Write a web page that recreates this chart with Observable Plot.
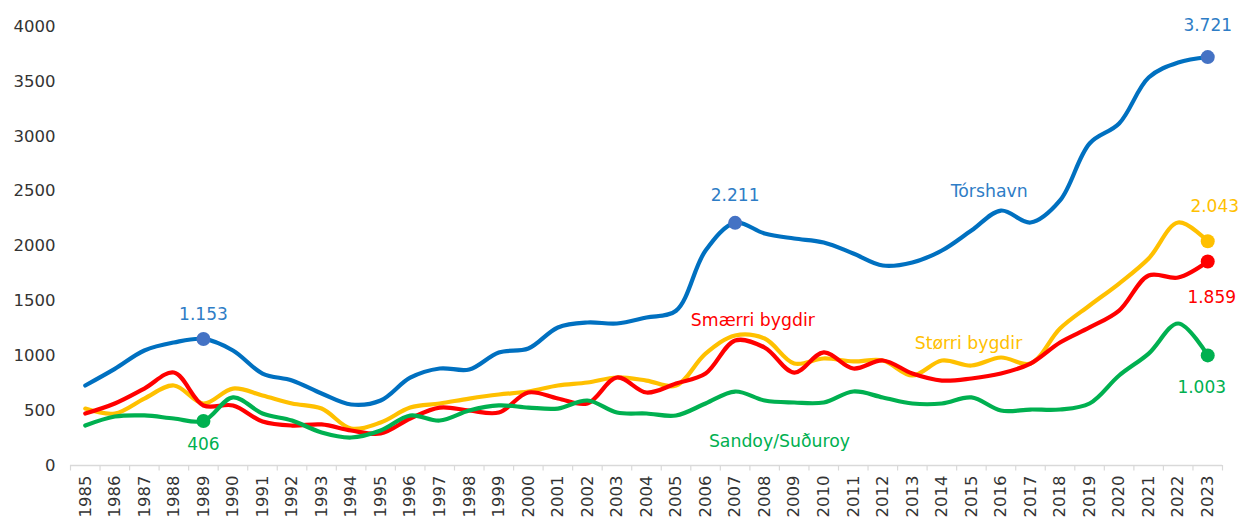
<!DOCTYPE html>
<html>
<head>
<meta charset="utf-8">
<script src="https://cdn.jsdelivr.net/npm/d3@7"></script>
<script src="https://cdn.jsdelivr.net/npm/@observablehq/plot@0.6"></script>
<style>
  html, body { margin: 0; padding: 0; background: #fff; }
  #chart svg { display: block; overflow: visible; }
</style>
</head>
<body>
<div id="chart"></div>
<script>
const years = [1985,1986,1987,1988,1989,1990,1991,1992,1993,1994,1995,1996,1997,1998,1999,2000,2001,2002,2003,2004,2005,2006,2007,2008,2009,2010,2011,2012,2013,2014,2015,2016,2017,2018,2019,2020,2021,2022,2023];

const torshavn = [729,880,1048,1121,1153,1048,838,775,656,556,592,800,884,875,1030,1066,1258,1303,1294,1349,1410,1959,2211,2114,2068,2032,1932,1822,1850,1959,2141,2323,2214,2415,2934,3116,3535,3672,3721];
const storri   = [519,474,610,729,565,701,638,565,519,337,392,528,565,610,647,674,729,756,802,774,729,1020,1185,1157,929,975,948,957,820,957,911,984,929,1248,1458,1658,1886,2214,2043];
const smaerri  = [474,565,701,847,547,547,401,364,374,319,292,428,528,501,483,665,610,565,802,665,747,838,1139,1075,847,1030,884,957,838,774,793,838,929,1121,1258,1412,1731,1713,1859];
const sandoy   = [364,446,456,428,406,620,474,410,301,255,319,456,410,501,547,528,519,592,483,474,456,565,674,592,574,574,674,620,565,565,620,501,510,510,565,820,1020,1294,1003];

const seriesNames  = ["Størri bygdir", "Smærri bygdir", "Sandoy/Suðuroy", "Tórshavn"];
const seriesValues = [storri, smaerri, sandoy, torshavn];
const seriesColors = ["#FFC000", "#FF0000", "#00B050", "#0070C0"];
const markerColors = ["#FFC000", "#FF0000", "#00B050", "#4472C4"];
const textColors   = ["#FFC000", "#FF0000", "#00B050", "#2E7DC6"];

const yTicks = [0,500,1000,1500,2000,2500,3000,3500,4000];

// highlighted points: series index, year
const highlights = [
  {s: 3, year: 1989, dx: 0, dy: -24},
  {s: 2, year: 1989, dx: 0, dy: 24},
  {s: 3, year: 2007, dx: 0, dy: -27},
  {s: 3, year: 2023, dx: 0, dy: -32},
  {s: 0, year: 2023, dx: 7, dy: -35},
  {s: 1, year: 2023, dx: 4, dy: 36},
  {s: 2, year: 2023, dx: -6, dy: 32}
];

// series name labels (placed in data space)
const nameLabels = [
  {s: 3, year: 2015.6, value: 2500},
  {s: 1, year: 2007.6, value: 1321},
  {s: 0, year: 2014.9, value: 1112},
  {s: 2, year: 2008.5, value: 219}
];

const data = [];
seriesNames.forEach((name, i) => {
  seriesValues[i].forEach((v, j) => data.push({series: name, idx: i, year: years[j], value: v}));
});

const hiData = highlights.map(h => ({
  ...h,
  value: seriesValues[h.s][years.indexOf(h.year)]
}));

const boundaries = years.map(y => y - 0.5).concat([years[years.length - 1] + 0.5]);

const fmt = v => d3.format(",")(v).replace(/,/g, ".");

const chart = Plot.plot({
  width: 1246,
  height: 519,
  marginTop: 26,
  marginBottom: 54,
  marginLeft: 70,
  marginRight: 24,
  style: {fontFamily: "DejaVu Sans, Verdana, sans-serif", fontSize: "16.5px", color: "#333333", background: "#fff"},
  x: {type: "linear", domain: [1984.5, 2023.5], ticks: years, tickFormat: d => String(d), tickRotate: -90, tickSize: 0, tickPadding: 10, label: null},
  y: {domain: [0, 4000], ticks: yTicks, tickSize: 0, tickPadding: 15, label: null, tickFormat: d => String(d)},
  marks: [
    Plot.ruleY([0], {stroke: "#d9d9d9", strokeWidth: 1.5}),
    Plot.ruleX(boundaries, {x: d => d, y1: 0, y2: -50, stroke: "#d9d9d9", strokeWidth: 1.2}),
    ...seriesNames.map((name, i) =>
      Plot.line(data.filter(d => d.idx === i), {
        x: "year", y: "value", stroke: seriesColors[i], strokeWidth: 4.2, curve: "catmull-rom"
      })
    ),
    Plot.dot(hiData, {x: "year", y: "value", r: 7, fill: d => markerColors[d.s], stroke: "none"}),
    ...hiData.map(h =>
      Plot.text([h], {x: "year", y: "value", text: d => fmt(d.value), dx: h.dx, dy: h.dy,
        fill: textColors[h.s], fontSize: 17})
    ),
    ...nameLabels.map(l =>
      Plot.text([l], {x: "year", y: "value", text: d => seriesNames[d.s], fill: textColors[l.s], fontSize: 17.3})
    )
  ]
});

document.getElementById("chart").appendChild(chart);
</script>
</body>
</html>
